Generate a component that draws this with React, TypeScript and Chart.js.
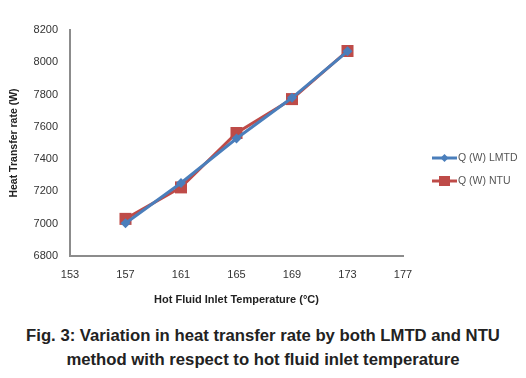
import React, { useEffect, useRef } from "react";
import { Chart, registerables } from "chart.js";

Chart.register(...registerables);

const temperatures = [157, 161, 165, 169, 173];
const lmtdValues = [7003, 7252, 7528, 7780, 8068];
const ntuValues = [7030, 7225, 7562, 7772, 8070];
const seriesLabels = ["Q (W) LMTD", "Q (W) NTU"];
const xTitle = "Hot Fluid Inlet Temperature (\u00B0C)";
const yTitle = "Heat Transfer rate (W)";
const captionLines = [
  "Fig. 3: Variation in heat transfer rate by both LMTD and NTU",
  "method with respect to hot fluid inlet temperature",
];

const BLUE = "#4a7ebb";
const RED = "#be4b48";
const FONT = "'Liberation Sans', Arial, sans-serif";

const legendPlugin = {
  id: "customLegend",
  afterDraw(chart: any) {
    const ctx = chart.ctx;
    const x0 = 432;
    const rows = [158, 181];
    ctx.save();
    chart.data.datasets.forEach((ds: any, i: number) => {
      const y = rows[i];
      ctx.strokeStyle = ds.borderColor;
      ctx.lineWidth = 3;
      ctx.beginPath();
      ctx.moveTo(x0, y);
      ctx.lineTo(x0 + 25, y);
      ctx.stroke();
      ctx.fillStyle = ds.backgroundColor;
      ctx.beginPath();
      if (i === 0) {
        ctx.moveTo(x0 + 12.5, y - 4);
        ctx.lineTo(x0 + 16.5, y);
        ctx.lineTo(x0 + 12.5, y + 4);
        ctx.lineTo(x0 + 8.5, y);
        ctx.closePath();
      } else {
        ctx.rect(x0 + 7, y - 5, 11, 10);
      }
      ctx.fill();
      ctx.fillStyle = "#555";
      ctx.font = "10.5px " + FONT;
      ctx.textBaseline = "middle";
      ctx.textAlign = "left";
      ctx.fillText(ds.label, x0 + 26, y);
    });
    ctx.restore();
  },
};

export default function App() {
  const ref = useRef<HTMLCanvasElement | null>(null);
  useEffect(() => {
    if (!ref.current) return;
    const chart = new Chart(ref.current, {
      type: "line",
      data: {
        datasets: [
          {
            label: seriesLabels[0],
            data: temperatures.map((t, i) => ({ x: t, y: lmtdValues[i] })),
            borderColor: BLUE,
            backgroundColor: BLUE,
            borderWidth: 3,
            pointStyle: "rectRot",
            pointRadius: 5,
            pointBorderWidth: 0,
          },
          {
            label: seriesLabels[1],
            data: temperatures.map((t, i) => ({ x: t, y: ntuValues[i] })),
            borderColor: RED,
            backgroundColor: RED,
            borderWidth: 3,
            pointStyle: "rect",
            pointRadius: 8.5,
            pointBorderWidth: 0,
          },
        ],
      },
      options: {
        animation: false,
        responsive: false,
        events: [],
        layout: { padding: { top: 30, right: 123, left: 0, bottom: 0 } },
        plugins: { legend: { display: false }, tooltip: { enabled: false } },
        scales: {
          x: {
            type: "linear",
            min: 153,
            max: 177,
            afterFit: (s: any) => {
              s.height = 54;
            },
            grid: { display: false, drawTicks: false },
            border: { display: true, color: "#8c8c8c", width: 2 },
            ticks: {
              stepSize: 4,
              padding: 12,
              color: "#333",
              font: { family: FONT, size: 11 },
              callback: (v: any) => String(v),
            },
            title: {
              display: true,
              text: xTitle,
              color: "#222",
              font: { family: FONT, size: 11, weight: "bold" },
              padding: { top: 0, bottom: 3 },
            },
          },
          y: {
            min: 6800,
            max: 8200,
            afterFit: (s: any) => {
              s.width = 70;
            },
            grid: { display: false, drawTicks: false },
            border: { display: true, color: "#8c8c8c", width: 2 },
            ticks: {
              stepSize: 200,
              padding: 12,
              color: "#333",
              font: { family: FONT, size: 11 },
              callback: (v: any) => String(v),
            },
            title: {
              display: true,
              text: yTitle,
              color: "#222",
              font: { family: FONT, size: 10.5, weight: "bold" },
              padding: { top: 8, bottom: 0 },
            },
          },
        },
      },
      plugins: [legendPlugin],
    });
    return () => chart.destroy();
  }, []);

  return (
    <div
      style={{
        position: "absolute",
        left: 0,
        top: 0,
        width: 526,
        height: 378,
        background: "#fff",
      }}
    >
      <canvas ref={ref} width={526} height={310} style={{ display: "block" }} />
      <div
        style={{
          position: "absolute",
          left: 0,
          top: 324,
          width: 526,
          textAlign: "center",
          fontFamily: FONT,
          fontWeight: "bold",
          fontSize: 16.7,
          lineHeight: "24px",
          color: "#222",
        }}
      >
        {captionLines.map((l, i) => (
          <div key={i}>{l}</div>
        ))}
      </div>
    </div>
  );
}
